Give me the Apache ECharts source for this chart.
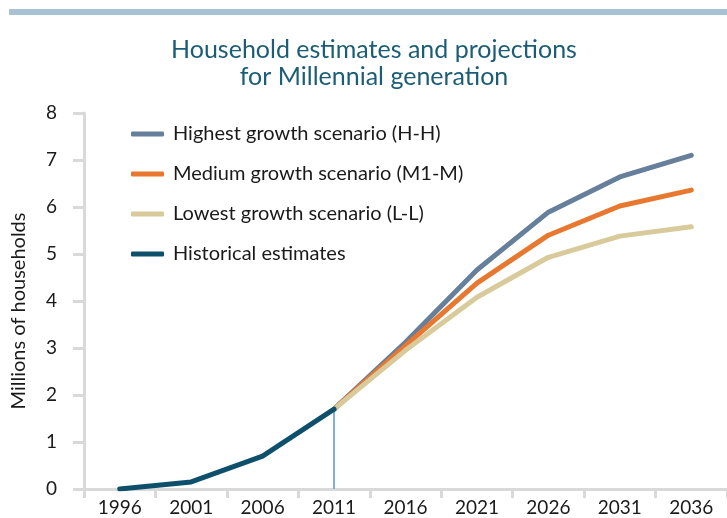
<!DOCTYPE html>
<html>
<head>
<meta charset="utf-8">
<script src="https://cdn.jsdelivr.net/npm/echarts@6/dist/echarts.min.js"></script>
<style>
  html, body { margin: 0; padding: 0; background: #fff; }
  #main { width: 727px; height: 518px; }
</style>
</head>
<body>
<div id="main"></div>
<script>
var years = ['1996', '2001', '2006', '2011', '2016', '2021', '2026', '2031', '2036'];
var yTicks = [0, 1, 2, 3, 4, 5, 6, 7, 8];
var historical = [0.0, 0.15, 0.7, 1.7, null, null, null, null, null];
var highGrowth = [null, null, null, 1.7, 3.12, 4.66, 5.89, 6.64, 7.1];
var mediumGrowth = [null, null, null, 1.7, 3.05, 4.38, 5.4, 6.02, 6.36];
var lowGrowth = [null, null, null, 1.7, 2.95, 4.08, 4.93, 5.38, 5.58];
var seriesNames = [
  'Highest growth scenario (H-H)',
  'Medium growth scenario (M1-M)',
  'Lowest growth scenario (L-L)',
  'Historical estimates'
];

var font = 'Lato, "Open Sans", sans-serif';
var chart = echarts.init(document.getElementById('main'));

function lineSeries(name, data, color, z) {
  return {
    name: name,
    type: 'line',
    data: data,
    z: z,
    symbol: 'none',
    showSymbol: false,
    connectNulls: false,
    lineStyle: { color: color, width: 5, cap: 'round', join: 'round' },
    itemStyle: { color: color }
  };
}

var hist = lineSeries(seriesNames[3], historical, '#0e4f6b', 6);
hist.markLine = {
  silent: true,
  symbol: 'none',
  label: { show: false },
  lineStyle: { color: '#7fb2da', width: 2, type: 'solid' },
  data: [[{ coord: ['2011', 0] }, { coord: ['2011', historical[3]] }]]
};

chart.setOption({
  animation: false,
  graphic: [{
    type: 'rect',
    shape: { x: 9, y: 9, width: 718, height: 6 },
    style: { fill: '#a8c1d3' }
  }],
  title: {
    text: 'Household estimates and projections\nfor Millennial generation',
    left: 369,
    top: 31,
    textAlign: 'center',
    textStyle: {
      color: '#1b5d77',
      fontFamily: font,
      fontWeight: 'normal',
      fontSize: 25,
      lineHeight: 27
    }
  },
  legend: {
    orient: 'vertical',
    left: 126,
    top: 118,
    itemGap: 18,
    itemWidth: 33,
    itemHeight: 5,
    icon: 'roundRect',
    data: seriesNames,
    textStyle: { fontFamily: font, fontSize: 20, lineHeight: 22, color: '#1a1a1a', padding: [0, 0, 0, 4] }
  },
  grid: { left: 84, right: 0, top: 113, bottom: 29, containLabel: false, outerBoundsMode: 'none' },
  xAxis: {
    type: 'category',
    data: years,
    boundaryGap: true,
    axisLine: { lineStyle: { color: '#d9d9d9', width: 3 } },
    axisTick: { show: true, length: 9, lineStyle: { color: '#d9d9d9', width: 3 } },
    axisLabel: { color: '#1a1a1a', fontFamily: font, fontSize: 19, margin: 9 },
    splitLine: { show: false }
  },
  yAxis: {
    type: 'value',
    min: yTicks[0],
    max: yTicks[yTicks.length - 1],
    interval: 1,
    name: 'Millions of households',
    nameLocation: 'middle',
    nameGap: 55,
    nameTextStyle: { color: '#1a1a1a', fontFamily: font, fontSize: 20, padding: [0, 20, 0, 0] },
    axisLine: { show: true, lineStyle: { color: '#d9d9d9', width: 3 } },
    axisTick: { show: true, length: 11, lineStyle: { color: '#d9d9d9', width: 3 } },
    axisLabel: { color: '#1a1a1a', fontFamily: font, fontSize: 19, margin: 27 },
    splitLine: { show: false }
  },
  series: [
    lineSeries(seriesNames[0], highGrowth, '#667f9b', 3),
    lineSeries(seriesNames[1], mediumGrowth, '#e8782f', 4),
    lineSeries(seriesNames[2], lowGrowth, '#d8ca9b', 5),
    hist
  ]
});
</script>
</body>
</html>
